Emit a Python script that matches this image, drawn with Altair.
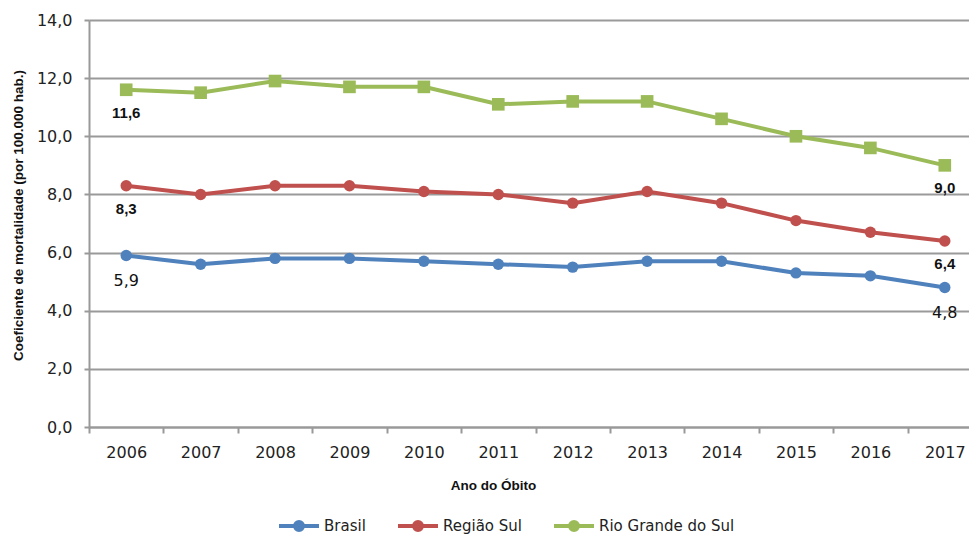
import altair as alt
import pandas as pd

years = ["2006", "2007", "2008", "2009", "2010", "2011", "2012", "2013", "2014", "2015", "2016", "2017"]
series_names = ["Brasil", "Região Sul", "Rio Grande do Sul"]
brasil = [5.9, 5.6, 5.8, 5.8, 5.7, 5.6, 5.5, 5.7, 5.7, 5.3, 5.2, 4.8]
regiao_sul = [8.3, 8.0, 8.3, 8.3, 8.1, 8.0, 7.7, 8.1, 7.7, 7.1, 6.7, 6.4]
rio_grande = [11.6, 11.5, 11.9, 11.7, 11.7, 11.1, 11.2, 11.2, 10.6, 10.0, 9.6, 9.0]
colors = ["#4F81BD", "#C0504D", "#9BBB59"]

rows = []
for name, vals in zip(series_names, [brasil, regiao_sul, rio_grande]):
    for i, (y, v) in enumerate(zip(years, vals)):
        lab = ("%.1f" % v).replace(".", ",") if i in (0, len(years) - 1) else ""
        rows.append({"ano": y, "serie": name, "valor": v, "label": lab})
df = pd.DataFrame(rows)

color_scale = alt.Scale(domain=series_names, range=colors)


def ring(r):
    return "M%s,0A%s,%s,0,1,1,-%s,0A%s,%s,0,1,1,%s,0Z" % (r, r, r, r, r, r, r)


legend_glyph = "M-1,0H1" + ring(0.2) + ring(0.11) + ring(0.03)

x_scale = alt.Scale(paddingInner=0, paddingOuter=0, range=[0, 893])

x_enc = alt.X("ano:N", sort=years, scale=x_scale,
              axis=alt.Axis(title="Ano do Óbito", tickBand="extent",
                            labelAngle=0, tickSize=6, labelPadding=11,
                            labelFont="DejaVu Sans", labelFontSize=16, labelColor="#222",
                            titleFont="Liberation Sans", titleFontSize=13.5, titleFontWeight="bold",
                            titleColor="#111", titleX=404, titleY=58, titleAlign="center",
                            titleBaseline="middle", titleAnchor="start",
                            domainColor="#999", domainWidth=2, tickColor="#999", tickWidth=2,
                            grid=False))
y_enc = alt.Y("valor:Q", scale=alt.Scale(domain=[0, 14], nice=False),
              axis=alt.Axis(title="Coeficiente de mortalidade (por 100.000 hab.)",
                            values=[0, 2, 4, 6, 8, 10, 12, 14],
                            labelExpr="replace(format(datum.value, '.1f'), '.', ',')",
                            tickSize=5, labelPadding=12,
                            labelFont="DejaVu Sans", labelFontSize=16, labelColor="#222",
                            titleFont="Liberation Sans", titleFontSize=13.5, titleFontWeight="bold",
                            titleColor="#111", titleX=-71, titleY=195, titleAngle=270,
                            titleAlign="center", titleBaseline="middle", titleAnchor="start",
                            domainColor="#999", domainWidth=2, tickColor="#999", tickWidth=2,
                            grid=True, gridColor="#9a9a9a", gridWidth=2))

base = alt.Chart(df)

leg = alt.Legend(title=None, orient="none", direction="horizontal",
                 legendX=188, legendY=484, padding=0,
                 symbolType=legend_glyph, symbolSize=1600, symbolStrokeWidth=4,
                 labelFont="DejaVu Sans", labelFontSize=15, labelColor="#222",
                 labelOffset=3, columnPadding=24)

lines = base.mark_line(strokeWidth=4).encode(
    x=x_enc, y=y_enc,
    color=alt.Color("serie:N", scale=color_scale, sort=series_names, legend=leg),
)

circles = base.transform_filter("datum.serie !== 'Rio Grande do Sul'").mark_circle(
    size=130, opacity=1
).encode(
    x=alt.X("ano:N", sort=years),
    y=alt.Y("valor:Q"),
    color=alt.Color("serie:N", scale=color_scale, legend=None),
)

squares = base.transform_filter("datum.serie === 'Rio Grande do Sul'").mark_square(
    size=160, opacity=1
).encode(
    x=alt.X("ano:N", sort=years),
    y=alt.Y("valor:Q"),
    color=alt.Color("serie:N", scale=color_scale, legend=None),
)

labels_normal = base.transform_filter("datum.label != '' && datum.serie === 'Brasil'").mark_text(
    dy=26, baseline="middle", align="center", font="DejaVu Sans", color="#111",
    fontSize=16, fontWeight="normal"
).encode(
    x=alt.X("ano:N", sort=years),
    y=alt.Y("valor:Q"),
    text="label:N",
)

labels_bold = base.transform_filter("datum.label != '' && datum.serie !== 'Brasil'").mark_text(
    dy=23, baseline="middle", align="center", font="Liberation Sans", color="#111",
    fontSize=15, fontWeight="bold"
).encode(
    x=alt.X("ano:N", sort=years),
    y=alt.Y("valor:Q"),
    text="label:N",
)

chart = alt.layer(lines, circles, squares, labels_normal, labels_bold).properties(
    width=880, height=407,
    autosize=alt.AutoSizeParams(type="none"),
    padding={"left": 81, "top": 12, "right": 0, "bottom": 111},
    background="white",
).configure_view(stroke=None)

chart.save("out.html", embed_options={"renderer": "svg", "actions": False})
